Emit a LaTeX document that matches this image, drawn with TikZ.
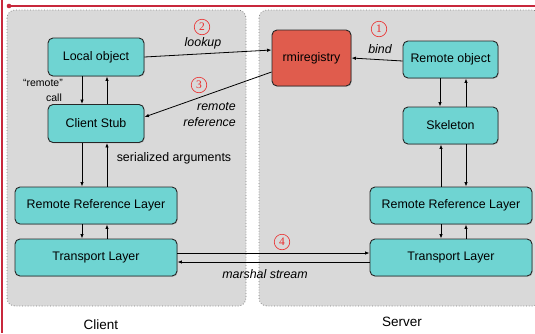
\documentclass[tikz,border=0pt]{standalone}
\usepackage{fontspec}
\setmainfont{Liberation Sans}
\newfontfamily\numfont{Liberation Serif}
\usetikzlibrary{arrows.meta,calc,shadows}
\definecolor{tealfill}{RGB}{111,212,210}
\definecolor{redfill}{RGB}{224,92,77}
\definecolor{panelgray}{RGB}{217,217,217}
\definecolor{framered}{RGB}{200,40,60}
\definecolor{numred}{RGB}{235,40,40}
\tikzset{
  box/.style={draw=black!85, line width=0.9pt, fill=tealfill, rounded corners=5pt,
    inner sep=0pt, font=\fontsize{12.4}{14}\selectfont,
    drop shadow={opacity=0.35, shadow xshift=0.8pt, shadow yshift=-0.8pt}},
  regbox/.style={box, fill=redfill},
  panel/.style={draw=black!50, dotted, line width=0.8pt, fill=panelgray, rounded corners=8pt},
  arr/.style={draw=black, line width=0.8pt, -{Latex[length=4.5pt,width=3.5pt]}},
  lbl/.style={font=\fontsize{12.4}{14}\selectfont, inner sep=0pt},
  ilbl/.style={font=\fontsize{12.4}{14}\selectfont\itshape, inner sep=0pt},
  num/.style={circle, draw=numred, line width=0.6pt, text=numred, inner sep=0pt,
    minimum size=15.5pt, font=\fontsize{11.5}{12}\selectfont\numfont},
}
\begin{document}
\begin{tikzpicture}[x=1pt,y=-1pt]
\useasboundingbox (0,0) rectangle (535,333);
% frame
\draw[framered, line width=1.6pt] (2,0) -- (2,333);
\draw[framered, line width=1.6pt] (9,6) -- (535,6);
\fill[framered] (9,6) circle (2.3pt);
% panels
\begin{scope}
\clip (0,0) rectangle (535,333);
\path[panel] (7,10) rectangle (246,306);
\path[panel] (259,10) rectangle (540,306);
\end{scope}
% nodes client
\node[box, minimum width=96pt, minimum height=38pt] (lo) at (96,57) {Local object};
\node[box, minimum width=96pt, minimum height=38pt] (cs) at (96,123.5) {Client Stub};
\node[box, minimum width=162pt, minimum height=37pt] (crrl) at (96,205.5) {Remote Reference Layer};
\node[box, minimum width=162pt, minimum height=37pt] (ctl) at (96,257.5) {Transport Layer};
% nodes server
\node[regbox, minimum width=79pt, minimum height=56pt] (rmi) at (311.5,58) {rmiregistry};
\node[box, minimum width=95pt, minimum height=37pt] (ro) at (450.5,59.5) {Remote object};
\node[box, minimum width=95pt, minimum height=37pt] (sk) at (450.5,125.5) {Skeleton};
\node[box, minimum width=162pt, minimum height=37pt] (srrl) at (451,205.5) {Remote Reference Layer};
\node[box, minimum width=162pt, minimum height=37pt] (stl) at (451,257.5) {Transport Layer};
% registry arrows
\draw[arr] (lo.east) -- ([yshift=8pt]rmi.west);
\draw[arr] ([yshift=-14pt]rmi.west) -- ([yshift=6.5pt]cs.east);
\draw[arr] ([yshift=-1.5pt]ro.west) -- (rmi.east);
% client vertical
\draw[arr] ([xshift=-14pt]lo.south) -- ([xshift=-14pt]cs.north);
\draw[arr] ([xshift=11pt]cs.north) -- ([xshift=11pt]lo.south);
\draw[arr] ([xshift=-14pt]cs.south) -- ([xshift=-14pt]crrl.north);
\draw[arr] ([xshift=11pt]crrl.north) -- ([xshift=11pt]cs.south);
\draw[arr] ([xshift=-14pt]crrl.south) -- ([xshift=-14pt]ctl.north);
\draw[arr] ([xshift=11pt]ctl.north) -- ([xshift=11pt]crrl.south);
% server vertical
\draw[arr] ([xshift=-10.5pt]ro.south) -- ([xshift=-10.5pt]sk.north);
\draw[arr] ([xshift=15.5pt]sk.north) -- ([xshift=15.5pt]ro.south);
\draw[arr] ([xshift=-10pt]srrl.north) -- ([xshift=-9.5pt]sk.south);
\draw[arr] ([xshift=15.5pt]sk.south) -- ([xshift=15pt]srrl.north);
\draw[arr] ([xshift=-10pt]srrl.south) -- ([xshift=-10pt]stl.north);
\draw[arr] ([xshift=15pt]stl.north) -- ([xshift=15pt]srrl.south);
% transport
\draw[arr] ([yshift=4.5pt]ctl.east) -- ([yshift=4.5pt]stl.west);
\draw[arr] ([yshift=-4.5pt]stl.west) -- ([yshift=-4.5pt]ctl.east);
% labels
\node[num] (n2) at (202,27) {2};
\node[ilbl] (llookup) at (203,43) {lookup};
\node[num] (n3) at (199,85) {3};
\node[ilbl, anchor=east] (lremote) at (236,107) {remote};
\node[ilbl, anchor=east] (lref) at (236,122) {reference};
\node[num] (n1) at (379,29) {1};
\node[ilbl] (lbind) at (380,49) {bind};
\node[num] (n4) at (282,242) {4};
\node[ilbl] (lms) at (265,274) {marshal stream};
\node[font=\fontsize{10.5}{12}\selectfont, inner sep=0pt] (lrc) at (43,83) {“remote”};
\node[font=\fontsize{10.5}{12}\selectfont, inner sep=0pt] (lcall) at (54,98) {call};
\node[lbl] (lser) at (174,158) {serialized arguments};
\node[font=\fontsize{13.5}{15}\selectfont, inner sep=0pt] (lclient) at (101,325) {Client};
\node[font=\fontsize{13.5}{15}\selectfont, inner sep=0pt] (lserver) at (402,322) {Server};
\end{tikzpicture}
\end{document}
